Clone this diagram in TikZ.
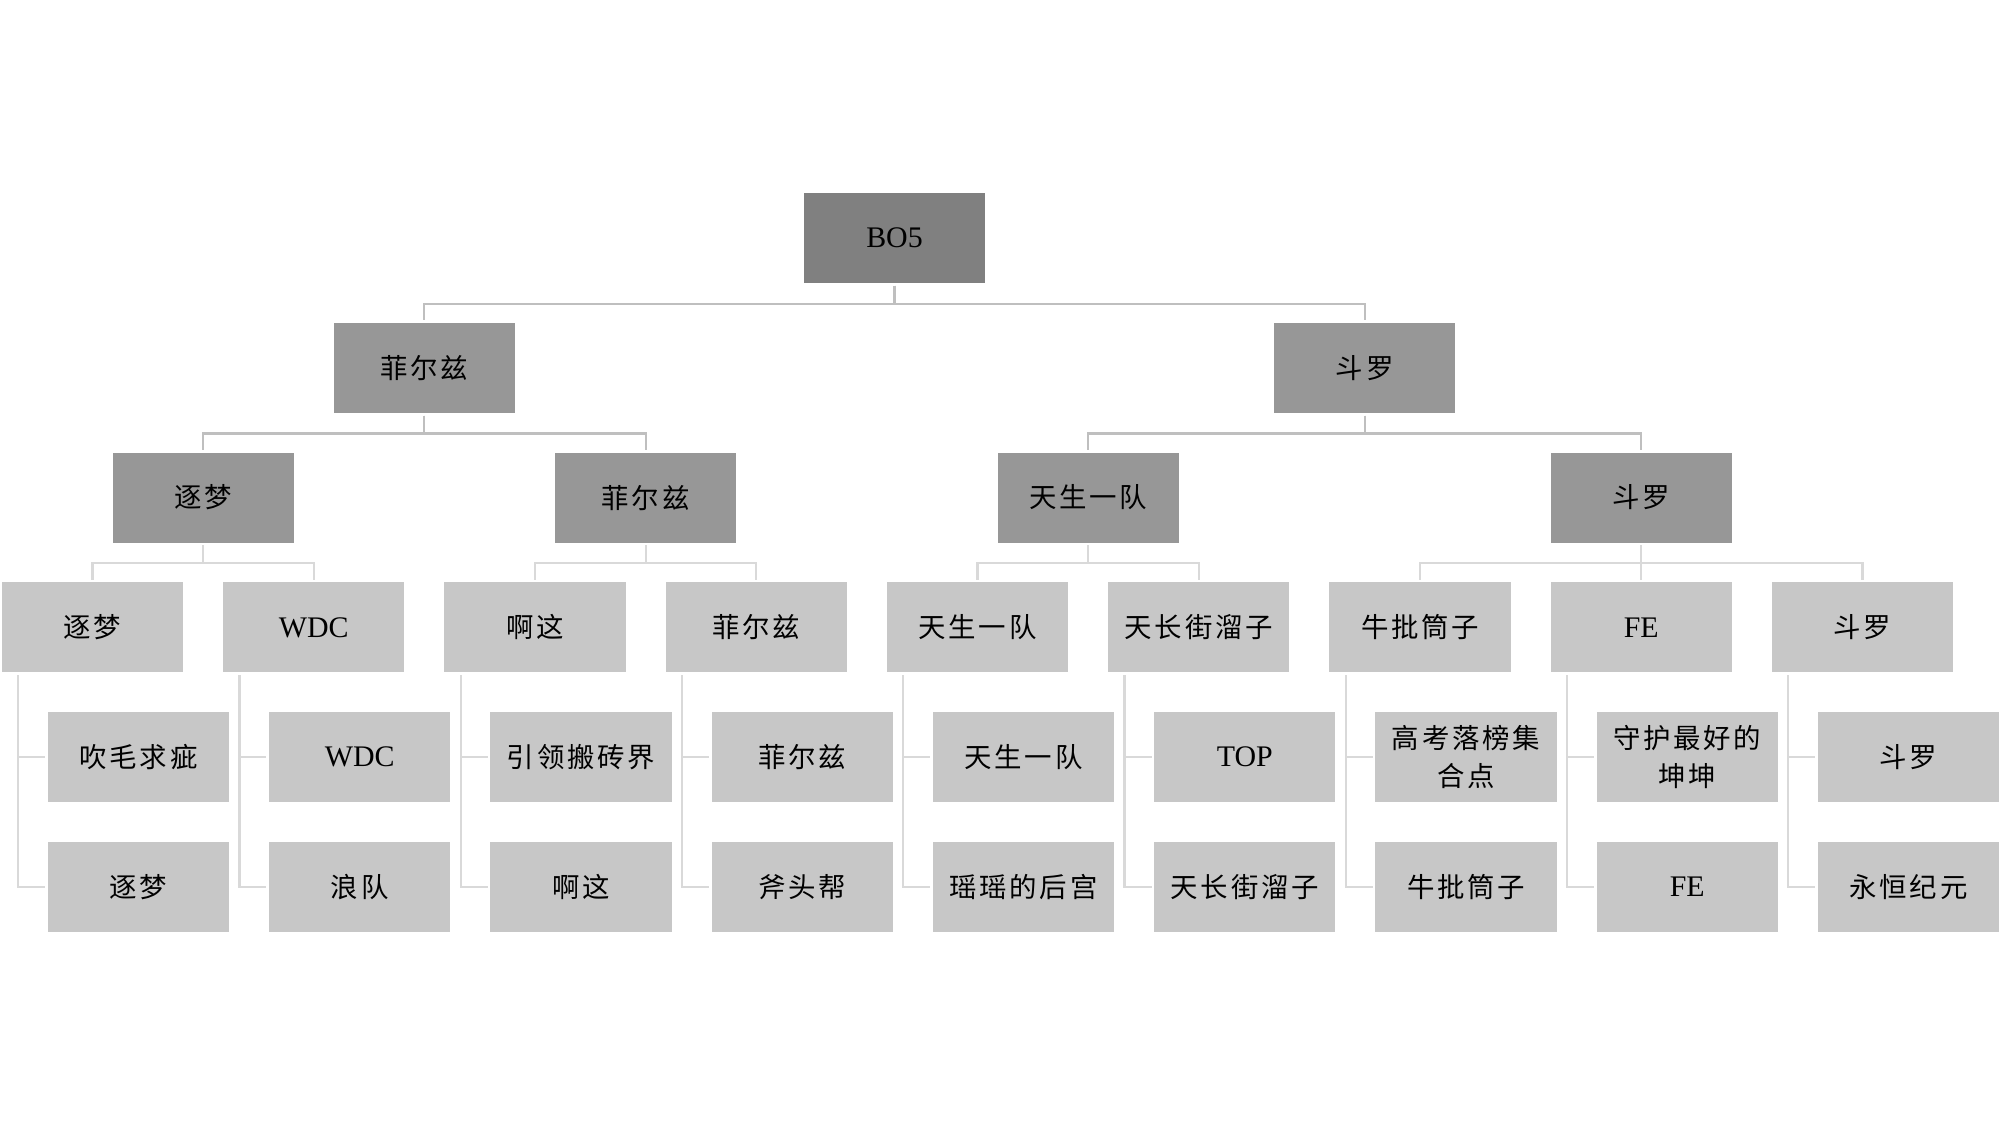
\documentclass[tikz,border=0pt]{standalone}
\usepackage{fontspec}
\setmainfont{Liberation Serif}
\newfontfamily\cjk[LetterSpace=10]{Noto Sans CJK SC}
\newcommand{\zh}[1]{{\cjk\fontsize{7.8}{10.8}\selectfont #1}}
\definecolor{topfill}{HTML}{808080}
\definecolor{midfill}{HTML}{979797}
\definecolor{lowfill}{HTML}{C7C7C7}
\definecolor{darkline}{HTML}{BFBFBF}
\definecolor{lightline}{HTML}{D9D9D9}
\tikzset{
  orgbox/.style={rectangle, inner sep=0pt, minimum width=1.81cm, minimum height=0.9cm,
    align=center, text=black, font=\fontsize{8.5}{10.8}\selectfont},
  topbox/.style={orgbox, fill=topfill},
  midbox/.style={orgbox, fill=midfill},
  lowbox/.style={orgbox, fill=lowfill},
  busdark/.style={draw=darkline, line width=0.6pt},
  buslight/.style={draw=lightline, line width=0.6pt},
}
\begin{document}
\begin{tikzpicture}[x=0.01cm, y=-0.01cm]
\fill[white] (0,0) rectangle (2000,1125);
\useasboundingbox (0,0) rectangle (2000,1125);
% level 0
\node[topbox] (r) at (894.5,238) {BO5};
% level 1
\node[midbox] (a1) at (424.4,367.8) {\zh{菲尔兹}};
\node[midbox] (a2) at (1364.7,367.8) {\zh{斗罗}};
% level 2
\node[midbox] (b1) at (203.1,497.6) {\zh{逐梦}};
\node[midbox] (b2) at (645.6,497.6) {\zh{菲尔兹}};
\node[midbox] (b3) at (1088.1,497.6) {\zh{天生一队}};
\node[midbox] (b4) at (1641.25,497.6) {\zh{斗罗}};
% level 3
\node[lowbox] (c0) at (92.5,627.4) {\zh{逐梦}};
\node[lowbox] (c1) at (313.75,627.4) {WDC};
\node[lowbox] (c2) at (535,627.4) {\zh{啊这}};
\node[lowbox] (c3) at (756.25,627.4) {\zh{菲尔兹}};
\node[lowbox] (c4) at (977.5,627.4) {\zh{天生一队}};
\node[lowbox] (c5) at (1198.75,627.4) {\zh{天长街溜子}};
\node[lowbox] (c6) at (1420,627.4) {\zh{牛批筒子}};
\node[lowbox] (c7) at (1641.25,627.4) {FE};
\node[lowbox] (c8) at (1862.5,627.4) {\zh{斗罗}};
% leaves, first row
\node[lowbox] (d0) at (138.5,757.2) {\zh{吹毛求疵}};
\node[lowbox] (d1) at (359.75,757.2) {WDC};
\node[lowbox] (d2) at (581,757.2) {\zh{引领搬砖界}};
\node[lowbox] (d3) at (802.25,757.2) {\zh{菲尔兹}};
\node[lowbox] (d4) at (1023.5,757.2) {\zh{天生一队}};
\node[lowbox] (d5) at (1244.75,757.2) {TOP};
\node[lowbox] (d6) at (1466,757.2) {\zh{高考落榜集}\\\zh{合点}};
\node[lowbox] (d7) at (1687.25,757.2) {\zh{守护最好的}\\\zh{坤坤}};
\node[lowbox] (d8) at (1908.5,757.2) {\zh{斗罗}};
% leaves, second row
\node[lowbox] (e0) at (138.5,887) {\zh{逐梦}};
\node[lowbox] (e1) at (359.75,887) {\zh{浪队}};
\node[lowbox] (e2) at (581,887) {\zh{啊这}};
\node[lowbox] (e3) at (802.25,887) {\zh{斧头帮}};
\node[lowbox] (e4) at (1023.5,887) {\zh{瑶瑶的后宫}};
\node[lowbox] (e5) at (1244.75,887) {\zh{天长街溜子}};
\node[lowbox] (e6) at (1466,887) {\zh{牛批筒子}};
\node[lowbox] (e7) at (1687.25,887) {FE};
\node[lowbox] (e8) at (1908.5,887) {\zh{永恒纪元}};
% bus connectors
\foreach \p/\c in {r/a1, r/a2, a1/b1, a1/b2, a2/b3, a2/b4}
  \draw[busdark] (\p.south) ++(0,2) -- ++(0,18) -| ([yshift=0.02cm]\c.north);
\foreach \p/\c in {b1/c0, b1/c1, b2/c2, b2/c3, b3/c4, b3/c5, b4/c6, b4/c7, b4/c8}
  \draw[buslight] (\p.south) ++(0,2) -- ++(0,18) -| ([yshift=0.02cm]\c.north);
% side connectors to leaves
\foreach \i in {0,...,8} {
  \draw[buslight] ([xshift=0.17cm]c\i.south west) ++(0,2) |- ([xshift=-0.02cm]e\i.west);
  \draw[buslight] ([xshift=0.17cm]c\i.south west |- d\i.west) -- ([xshift=-0.02cm]d\i.west);
}
\end{tikzpicture}
\end{document}
